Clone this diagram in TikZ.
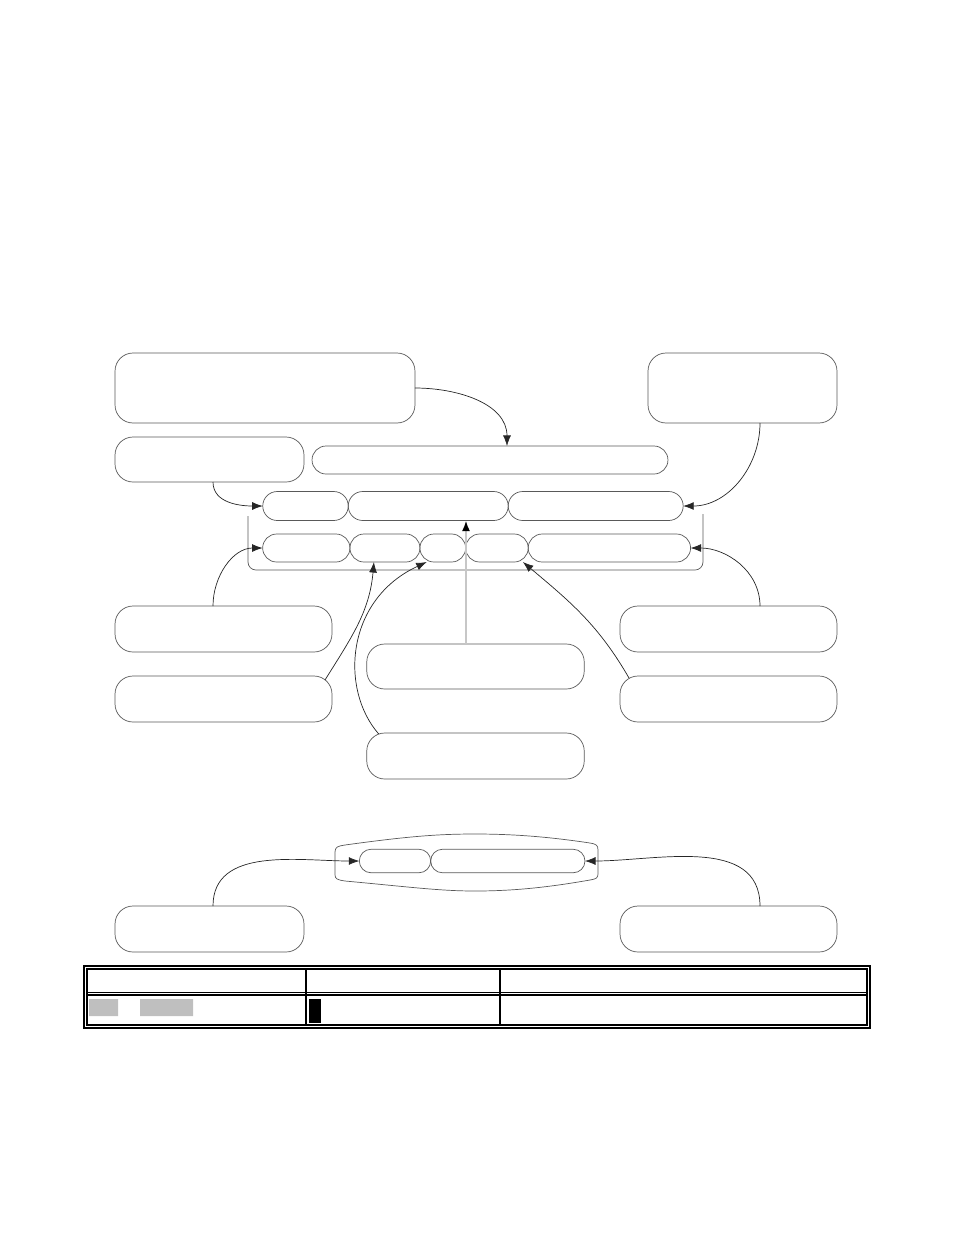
\documentclass[tikz,border=0pt]{standalone}
\usetikzlibrary{positioning,arrows.meta,shapes.misc}
\begin{document}
\begin{tikzpicture}[x=0.02cm,y=-0.02cm,every node/.style = {inner sep=0pt, outer sep=0pt},box/.style = {shape=rectangle, rounded corners=0.36cm, draw=black!65, minimum width=4.34cm, minimum height=0.92cm},pill/.style = {shape=rounded rectangle, draw=black!65, minimum height=0.56cm},link/.style = {-{Latex[length=6pt,width=4.5pt]}, black!85, thin},gray link/.style = {-{Latex[length=6pt,width=4.5pt,color=black]}, black!22, line width=1pt},frame/.style = {draw=black!65, rounded corners=0.16cm}]
\useasboundingbox (0,0) rectangle (954,1235);
\node[box, minimum width=6cm, minimum height=1.4cm](0;0) at (265,388) {};
  \node[box, minimum width=3.78cm, minimum height=1.4cm](0;1) at (742.5,388) {};
  \node[box, minimum width=3.78cm, minimum height=0.9cm](1;0) at (209.5,459.5) {};
  \node[pill, minimum width=7.12cm](1;1) at (490,460) {};
% first row of pills
\node[pill, minimum width=1.71cm, minimum height=0.58cm](2;1) at (305.5,506) {};
  \node[pill, minimum width=3.2cm, minimum height=0.58cm, right=0pt of 2;1](2;2) {};
  \node[pill, minimum width=3.5cm, minimum height=0.58cm, right=0pt of 2;2](2;3) {};
% second row of pills
\node[pill, minimum width=1.746cm](3;1) at (306.3,548) {};
  \node[pill, minimum width=1.4cm, right=0pt of 3;1](3;2) {};
  \node[pill, minimum width=0.914cm, right=0pt of 3;2](3;3) {};
  \node[pill, minimum width=1.252cm, right=0pt of 3;3](3;4) {};
  \node[pill, minimum width=3.248cm, right=0pt of 3;4](3;5) {};
\draw[frame] (248,516) -- (248,570) -- (703,570) -- (703,514);
% boxes below
\node(4;0) [box] at (223.5,629) {};
  \node(5;0) [box] at (223.5,699) {};
  \node(4;1) [box, minimum width=4.35cm, minimum height=0.9cm] at (475.5,666.5) {};
  \node(6;1) [box, minimum width=4.35cm] at (475.5,756) {};
  \node(4;2) [box] at (728.5,629) {};
  \node(5;2) [box] at (728.5,699) {};
\draw[link] (0;0.east) to[out=0,in=90] ([xshift=0.34cm]1;1.north);
\draw[link] ([xshift=0.35cm]0;1.south) to[out=-90,in=0] (2;3.east);
\draw[link] ([xshift=0.07cm]1;0.south) to[out=-90,in=180] (2;1.west);
\draw[link] ([xshift=-0.21cm]4;0.north) to[out=90,in=180] (3;1.west);
\draw[link] ([xshift=-0.14cm,yshift=-0.08cm]5;0.north east) to[out=58,in=-95] ([xshift=-0.22cm]3;2.south);
\draw[link] ([xshift=0.24cm,yshift=-0.02cm]6;1.north west) .. controls (340,690) and (345,600) .. ([xshift=-0.32cm]3;3.south);
\draw[link] ([xshift=0.18cm,yshift=-0.04cm]5;2.north west) to[out=120,in=-40] ([xshift=0.52cm]3;4.south);
\draw[link] ([xshift=0.63cm]4;2.north) to[out=90,in=0] (3;5.east);
\draw[gray link] ([xshift=-0.19cm]4;1.north) -- ([xshift=-0.19cm]4;1.north |- 2;2.south);
% lower group
\draw[draw=black!65] (335,852) .. controls (335,847) and (338,846) .. (345,845) .. controls (410,836) and (440,834) .. (475,834) .. controls (515,834) and (550,837) .. (590,843) .. controls (596,844) and (598,845) .. (598,850) -- (598,874) .. controls (598,878) and (596,879) .. (590,880) .. controls (550,887) and (515,891) .. (475,891) .. controls (440,891) and (410,887) .. (345,881) .. controls (338,880) and (335,879) .. (335,875) -- cycle;
\node[pill, minimum width=1.428cm, minimum height=0.47cm](7;1) at (395,861) {};
  \node[pill, minimum width=3.086cm, minimum height=0.47cm, right=0pt of 7;1](7;2) {};
\node(8;0) [box, minimum width=3.78cm] at (209.5,929) {};
  \node(8;2) [box] at (728.5,929) {};
\draw[link] ([xshift=0.07cm]8;0.north) to[out=90,in=180] (7;1.west);
\draw[link] ([xshift=0.63cm]8;2.north) to[out=90,in=0] (7;2.east);
% table
\draw[line width=0.6pt] (84,966) rectangle (870,1028) (87,969) rectangle (867,1025);
\draw[line width=0.6pt] (87,992.5) -- (867,992.5) (87,995) -- (867,995);
\draw[line width=0.6pt] (306,969) -- (306,1025);
\draw[line width=1.1pt] (500,969) -- (500,1025);
\fill[black!25] (89,999) rectangle (118,1016) (140,999) rectangle (193,1016);
\fill[black] (309,999) rectangle (321,1023);
\end{tikzpicture}
\end{document}
